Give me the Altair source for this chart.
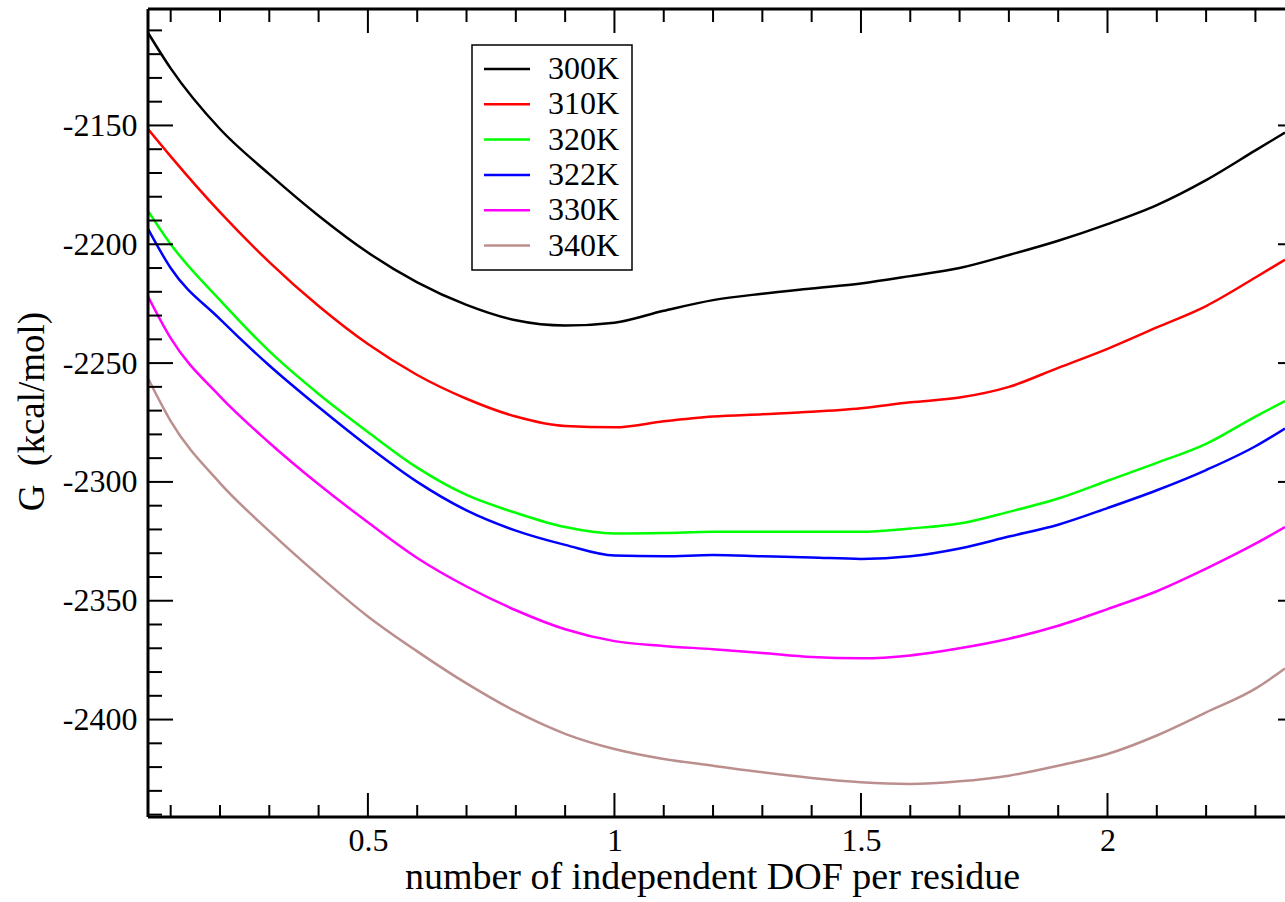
import altair as alt
import pandas as pd

# Free energy G (kcal/mol) versus number of independent DOF per residue
dof = [0.054, 0.1, 0.2, 0.3, 0.4, 0.5, 0.6, 0.7, 0.8, 0.9, 1.0, 1.1, 1.2,
       1.3, 1.4, 1.5, 1.6, 1.7, 1.8, 1.9, 2.0, 2.1, 2.2, 2.3, 2.36]

g_300 = [-2111, -2126, -2151.5, -2170.5, -2188, -2203.5, -2216, -2225.5, -2232,
         -2234.2, -2233, -2228, -2223.5, -2220.8, -2218.6, -2216.5, -2213.4,
         -2210, -2204.5, -2198.5, -2191.5, -2183.5, -2173, -2160.5, -2153]
g_310 = [-2151.5, -2163, -2186.5, -2207.5, -2226, -2242, -2255, -2265,
         -2272.5, -2276.5, -2277, -2274.5, -2272.5, -2271.5, -2270.5, -2269,
         -2266.5, -2264.5, -2260, -2252, -2244, -2235, -2226, -2214, -2206.5]
g_320 = [-2186, -2200, -2223.5, -2245, -2263, -2279, -2294, -2305.5, -2313,
         -2319, -2321.7, -2321.5, -2321, -2321, -2321, -2321, -2319.6,
         -2317.5, -2312.6, -2307, -2299.5, -2292, -2284, -2272.5, -2266]
g_322 = [-2193.5, -2210, -2231.5, -2251, -2268.5, -2285, -2300, -2312,
         -2320.5, -2326.5, -2331, -2331.3, -2330.8, -2331.3, -2331.8,
         -2332.4, -2331.3, -2328, -2323, -2318, -2311, -2303.5, -2295, -2285,
         -2277.5]
g_330 = [-2222, -2239.5, -2264, -2283.5, -2301, -2317, -2332, -2344, -2354,
         -2362, -2367, -2369, -2370.4, -2372, -2373.7, -2374.2, -2373,
         -2370, -2366, -2360.5, -2353.5, -2346, -2336.5, -2326, -2319]
g_340 = [-2256.4, -2274.4, -2300.5, -2320.7, -2339.3, -2356.6, -2371.3,
         -2384.8, -2396.6, -2406, -2412.4, -2416.6, -2419.4, -2422.2, -2424.6,
         -2426.4, -2427.1, -2426, -2423.6, -2419.4, -2414.5, -2406.7, -2397,
         -2387, -2378.5]

series_names = ["300K", "310K", "320K", "322K", "330K", "340K"]
series_values = [g_300, g_310, g_320, g_322, g_330, g_340]
series_colors = ["#000000", "#ff0000", "#00ff00", "#0000ff", "#ff00ff", "#bc8f8f"]

x_major = [0.5, 1, 1.5, 2]
x_minor = [0.1, 0.2, 0.3, 0.4, 0.6, 0.7, 0.8, 0.9, 1.1, 1.2, 1.3, 1.4,
           1.6, 1.7, 1.8, 1.9, 2.1, 2.2, 2.3]
y_major = [-2400, -2350, -2300, -2250, -2200, -2150]
y_minor = [v for v in range(-2440, -2100, 10) if v not in y_major]

SERIF = "Liberation Serif"
W, H = 1137, 808

rows = []
for name, vals in zip(series_names, series_values):
    for xv, gv in zip(dof, vals):
        rows.append({"series": name, "dof": xv, "G": gv})
curves = pd.DataFrame(rows)

x_scale = alt.Scale(domain=[0.054, 2.36], nice=False, zero=False)
y_scale = alt.Scale(domain=[-2441, -2101], nice=False, zero=False)
color = alt.Color("series:N",
                  scale=alt.Scale(domain=series_names, range=series_colors),
                  legend=None)

x_axis = alt.Axis(
    values=x_major, ticks=False, tickSize=0, domain=False, grid=False,
    labelExpr="'' + datum.value", labelFont=SERIF, labelFontSize=32,
    labelPadding=8, labelColor="black", labelOverlap=False,
    title="number of independent DOF per residue", titleFont=SERIF,
    titleFontSize=38, titleFontWeight="normal", titleColor="black",
    titleX=564, titleAlign="center", titleAnchor="start",
    titleY=71, titleBaseline="alphabetic")

y_axis = alt.Axis(
    values=y_major, ticks=False, tickSize=0, domain=False, grid=False,
    labelExpr="'' + datum.value", labelFont=SERIF, labelFontSize=32,
    labelPadding=11, labelColor="black", labelOverlap=False,
    title="G\u00a0\u00a0(kcal/mol)", titleFont=SERIF, titleFontSize=37,
    titleFontWeight="normal", titleColor="black", titleAngle=-90,
    titleX=-116, titleY=402, titleAlign="center", titleBaseline="middle")

lines = alt.Chart(curves).mark_line(
    strokeWidth=2.5, interpolate="monotone", clip=True
).encode(
    x=alt.X("dof:Q", scale=x_scale, axis=x_axis),
    y=alt.Y("G:Q", scale=y_scale, axis=y_axis),
    color=color,
)


def x_ticks(values, y0, y1):
    return alt.Chart(pd.DataFrame({"dof": values})).mark_rule(
        color="black", strokeWidth=2
    ).encode(x=alt.X("dof:Q", scale=x_scale, axis=x_axis),
             y=alt.value(y0), y2=alt.value(y1))


def y_ticks(values, x0, x1):
    return alt.Chart(pd.DataFrame({"G": values})).mark_rule(
        color="black", strokeWidth=2
    ).encode(y=alt.Y("G:Q", scale=y_scale, axis=y_axis),
             x=alt.value(x0), x2=alt.value(x1))


one = pd.DataFrame({"a": [0]})


def frame_line(**enc):
    return alt.Chart(one).mark_rule(color="black", strokeWidth=3).encode(**enc)


tick_layers = [
    x_ticks(x_major, H, H - 24), x_ticks(x_minor, H, H - 12),
    x_ticks(x_major, 0, 24), x_ticks(x_minor, 0, 13),
    y_ticks(y_major, 0, 25), y_ticks(y_minor, 0, 14),
    y_ticks(y_major, W - 7, W),
]

frame = [
    frame_line(x=alt.value(0), x2=alt.value(W), y=alt.value(0)),
    frame_line(x=alt.value(0), x2=alt.value(W), y=alt.value(H)),
    frame_line(x=alt.value(0), y=alt.value(0), y2=alt.value(H)),
]

legend_box = alt.Chart(one).mark_rect(
    fill="white", stroke="black", strokeWidth=1.5
).encode(x=alt.value(324), x2=alt.value(484), y=alt.value(36), y2=alt.value(261))

legend_base = alt.Chart(pd.DataFrame({"series": series_names})).transform_window(
    idx="row_number()"
).transform_calculate(ly="60 + 35.3 * (datum.idx - 1)")

legend_lines = legend_base.mark_rule(strokeWidth=2.5).encode(
    x=alt.value(336), x2=alt.value(382),
    y=alt.Y("ly:Q", scale=None), color=color)

legend_text = legend_base.mark_text(
    align="left", baseline="middle", font=SERIF, fontSize=32, color="black"
).encode(x=alt.value(400), y=alt.Y("ly:Q", scale=None), text="series:N")

chart = alt.layer(
    lines, *tick_layers, *frame, legend_box, legend_lines, legend_text
).properties(
    width=W, height=H,
    autosize=alt.AutoSizeParams(type="none"),
    padding={"left": 148, "top": 9, "right": 0, "bottom": 84},
    background="white",
).configure_view(stroke=None)

chart.save("out.html", embed_options={"renderer": "svg", "actions": False})
